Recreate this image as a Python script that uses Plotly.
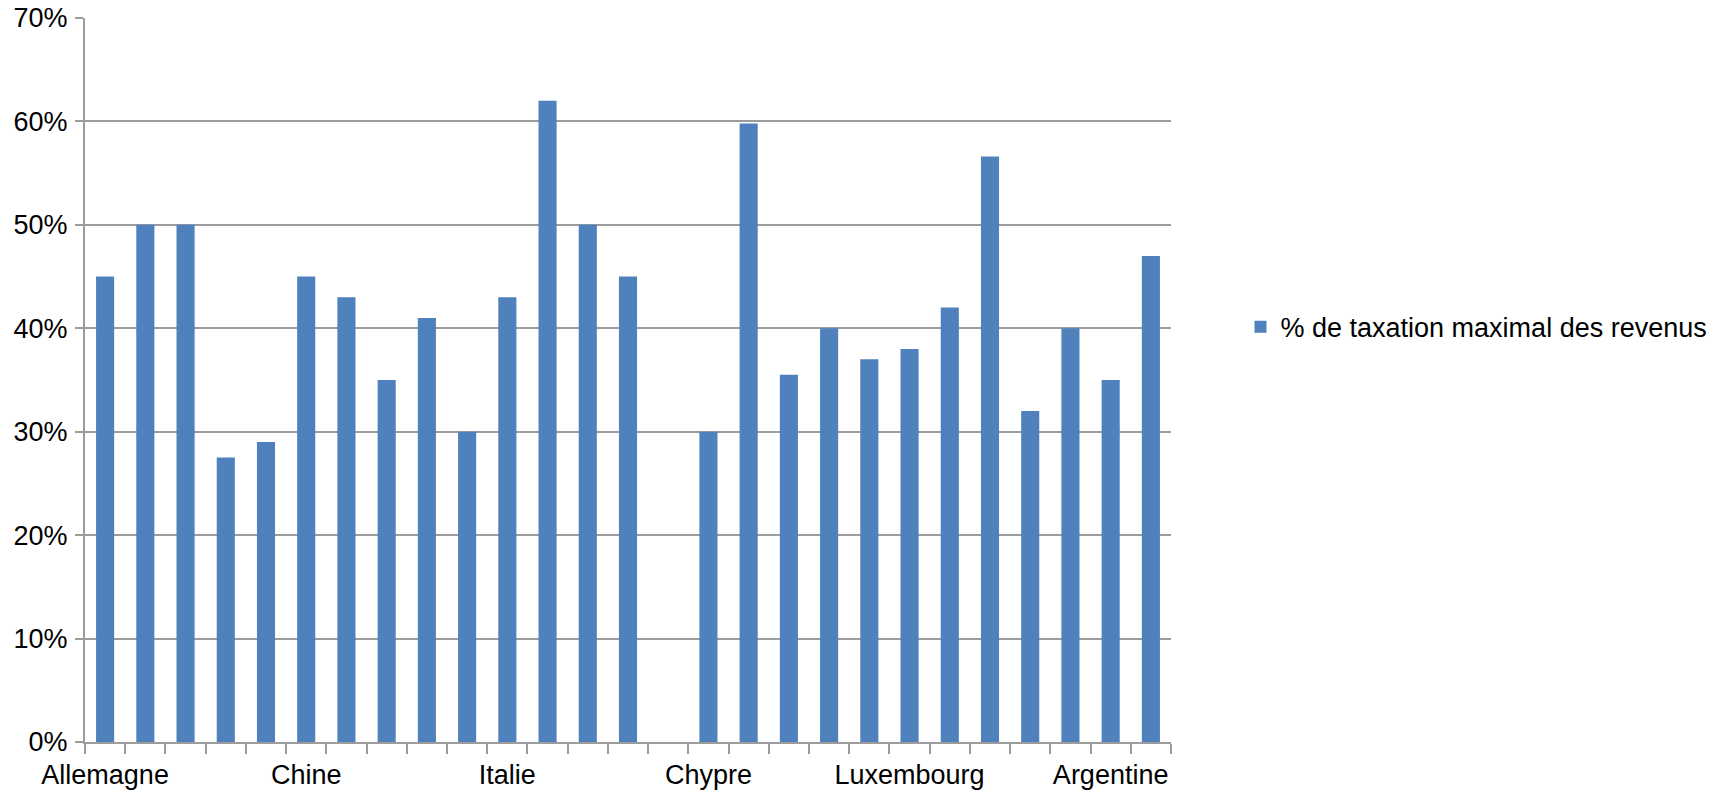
import plotly.graph_objects as go

categories = ["Allemagne", "Autriche", "Belgique", "Brésil", "Canada",
              "Chine", "Espagne", "États-Unis", "France", "Inde",
              "Italie", "Japon", "Pays-Bas", "Royaume-Uni", "",
              "Chypre", "Danemark", "Finlande", "Grèce", "Irlande",
              "Luxembourg", "Portugal", "Suède", "Suisse", "Afrique du Sud",
              "Argentine", "Australie"]
values = [45, 50, 50, 27.5, 29,
          45, 43, 35, 41, 30,
          43, 62, 50, 45, None,
          30, 59.8, 35.5, 40, 37,
          38, 42, 56.6, 32, 40,
          35, 47]
series_name = "% de taxation maximal des revenus"
label_every = 5
y_ticks = [0, 10, 20, 30, 40, 50, 60, 70]
y_tick_text = [f"{v}%" for v in y_ticks]

tick_text = [c if i % label_every == 0 else "" for i, c in enumerate(categories)]
cats = [c if c else " " for c in categories]

GRAY = "#9c9c9c"
FONT = "Liberation Sans, Arial, sans-serif"

fig = go.Figure()
fig.add_trace(go.Bar(
    x=cats, y=values, name=series_name,
    marker=dict(color="#4f81bd", line=dict(width=0)),
    showlegend=True,
))

fig.update_layout(
    width=1724, height=795,
    margin=dict(l=85, r=528, t=17.5, b=53, pad=0),
    paper_bgcolor="white", plot_bgcolor="white",
    font=dict(family=FONT, size=27, color="black"),
    bargap=0.55,
    showlegend=True,
    legend=dict(x=1.064, y=0.573, xanchor="left", yanchor="middle",
                font=dict(family=FONT, size=27, color="black"),
                bgcolor="rgba(0,0,0,0)", borderwidth=0),
)
fig.update_xaxes(
    type="category", automargin=False,
    tickvals=cats, ticktext=tick_text,
    tickson="boundaries",
    ticks="outside", ticklen=10, tickwidth=2, tickcolor=GRAY,
    showline=True, linecolor=GRAY, linewidth=2,
    showgrid=False, zeroline=False,
    tickfont=dict(family=FONT, size=27, color="black"),
    tickangle=0,
    ticklabelstandoff=8,
)
fig.update_yaxes(
    automargin=False,
    range=[0, 70], tickvals=y_ticks, ticktext=y_tick_text,
    ticks="outside", ticklen=8, tickwidth=2, tickcolor=GRAY,
    showline=True, linecolor=GRAY, linewidth=2,
    showgrid=True, gridcolor=GRAY, gridwidth=2,
    zeroline=False,
    tickfont=dict(family=FONT, size=27, color="black"),
    ticklabelstandoff=2,
)

fig.write_html(
    "out.html",
    config={"displayModeBar": False},
    post_script="document.body.style.margin='0';document.body.style.overflow='hidden';",
)
